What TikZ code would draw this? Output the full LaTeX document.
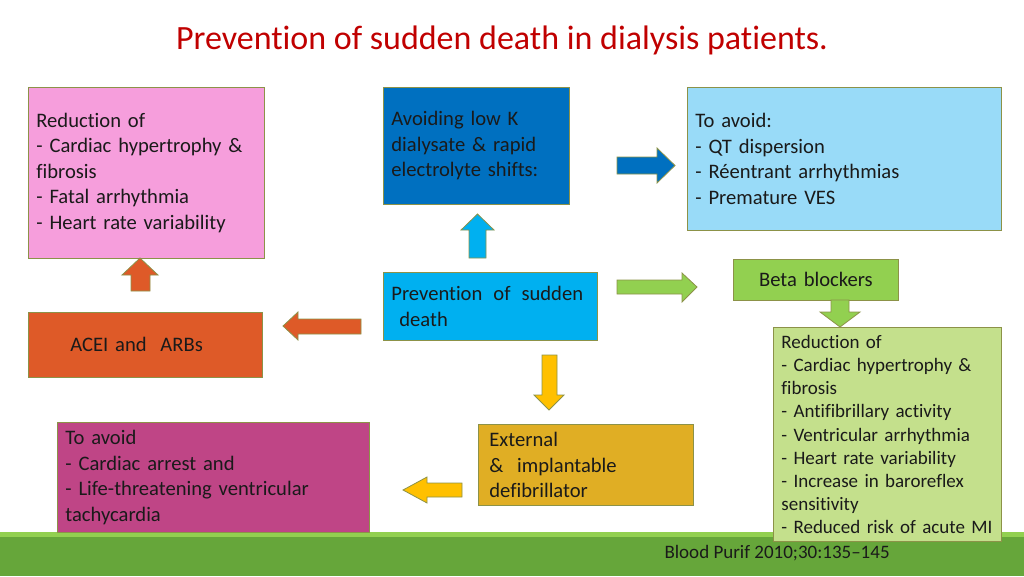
\documentclass[tikz,border=0pt]{standalone}
\usepackage{fontspec}
\setmainfont{Carlito}[Ligatures={TeX,NoCommon}]
\usepackage{tikz}

\definecolor{edge}{RGB}{140,146,72}
\definecolor{pinkbox}{RGB}{246,158,220}
\definecolor{navybox}{RGB}{0,112,192}
\definecolor{skybox}{RGB}{153,219,248}
\definecolor{cyanbox}{RGB}{0,176,240}
\definecolor{rustbox}{RGB}{222,90,40}
\definecolor{limebox}{RGB}{146,208,80}
\definecolor{palegreen}{RGB}{196,224,140}
\definecolor{plumbox}{RGB}{191,69,134}
\definecolor{goldbox}{RGB}{224,174,36}
\definecolor{amber}{RGB}{255,192,0}
\definecolor{footgreen}{RGB}{102,166,58}
\definecolor{titlered}{RGB}{192,0,0}
\definecolor{ink}{RGB}{26,26,26}

\begin{document}
\begin{tikzpicture}[x=1pt,y=-1pt,
	box/.style={draw=edge,line width=0.8pt,anchor=north west,inner sep=8pt,align=left,text=ink,font=\fontsize{20.6}{25.5}\selectfont},
	blockarrow/.style={draw=edge,line width=0.8pt}]
	\useasboundingbox (0,0) rectangle (1024,576);
	% footer bar
	\fill[limebox] (0,532) rectangle (1024,537);
	\fill[footgreen] (0,537) rectangle (1024,576);
	\draw (502,40) node (title) [text=titlered,font=\fontsize{34}{40}\selectfont] {Prevention of sudden death in dialysis patients.};
	% boxes
	\draw (28,87) node (pink) [box,fill=pinkbox,minimum width=236pt,minimum height=171pt,text width=220pt] {Reduction of\\- Cardiac hypertrophy \&\\fibrosis\\- Fatal arrhythmia\\- Heart rate variability};
	\draw (383,87) node (potassium) [box,fill=navybox,minimum width=186pt,minimum height=117pt,text width=170pt] {Avoiding low K\\dialysate \& rapid\\electrolyte shifts:};
	\draw (687,87) node (avoid) [box,fill=skybox,minimum width=314pt,minimum height=143pt,text width=298pt] {To avoid:\\- QT dispersion\\- Réentrant arrhythmias\\- Premature VES};
	\draw (383,272) node (prevent) [box,fill=cyanbox,minimum width=214pt,minimum height=68pt,text width=198pt] {Prevention\hspace{11pt}of\hspace{11pt}sudden\\\hspace*{8pt}death};
	\draw (28,312) node (acei) [box,fill=rustbox,minimum width=234pt,minimum height=65pt,text width=218pt] {\hspace*{34pt}ACEI and\ \ ARBs};
	\draw (733,259) node (beta) [box,fill=limebox,align=center,minimum width=165pt,minimum height=41pt,text width=149pt] {Beta blockers};
	\draw (773,327) node (betaeff) [box,fill=palegreen,minimum width=228pt,minimum height=210pt,text width=212pt,font=\fontsize{19}{23.1}\selectfont] {Reduction of\\- Cardiac hypertrophy \&\\fibrosis\\- Antifibrillary activity\\- Ventricular arrhythmia\\- Heart rate variability\\- Increase in baroreflex\\sensitivity\\- Reduced risk of acute MI};
	\draw (57,422) node (arrest) [box,fill=plumbox,minimum width=312pt,minimum height=101pt,text width=296pt] {To avoid\\- Cardiac arrest and\\- Life-threatening ventricular\\tachycardia};
	\draw (478,424) node (icd) [box,fill=goldbox,minimum width=215pt,minimum height=80pt,text width=199pt] {\hspace*{3pt}External\\\hspace*{3pt}\&\ \ implantable\\\hspace*{3pt}defibrillator};
	\draw (661,553) node (cite) [anchor=west,text=ink,font=\fontsize{19}{23}\selectfont] {Blood Purif 2010;30:135–145};
	% block arrows
	\draw[blockarrow,fill=rustbox] (140,258) -- (158,275) -- (150,275) -- (150,291) -- (131,291) -- (131,275) -- (122,275) -- cycle;
	\draw[blockarrow,fill=cyanbox] (477.5,214) -- (494,230) -- (486,230) -- (486,258) -- (469,258) -- (469,230) -- (461,230) -- cycle;
	\draw[blockarrow,fill=navybox] (675,165.5) -- (657,148) -- (657,157) -- (617,157) -- (617,174) -- (657,174) -- (657,183) -- cycle;
	\draw[blockarrow,fill=limebox] (697,287) -- (682,273) -- (682,280) -- (617,280) -- (617,294) -- (682,294) -- (682,302) -- cycle;
	\draw[blockarrow,fill=rustbox] (283,326) -- (298,312) -- (298,319) -- (361,319) -- (361,334) -- (298,334) -- (298,340) -- cycle;
	\draw[blockarrow,fill=limebox] (840,327) -- (860,312) -- (849,312) -- (849,300) -- (831,300) -- (831,312) -- (820,312) -- cycle;
	\draw[blockarrow,fill=amber] (549,410) -- (564,395) -- (557,395) -- (557,355) -- (542,355) -- (542,395) -- (534,395) -- cycle;
	\draw[blockarrow,fill=amber] (403,490) -- (427,477) -- (427,483) -- (462,483) -- (462,497) -- (427,497) -- (427,503) -- cycle;
\end{tikzpicture}
\end{document}
